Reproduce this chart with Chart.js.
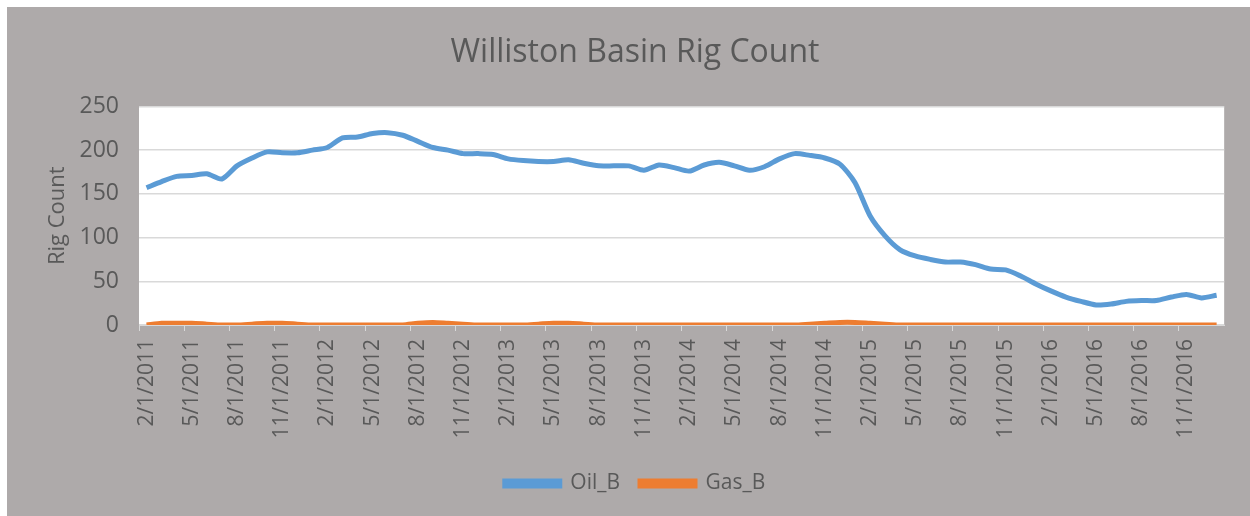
<!DOCTYPE html>
<html>
<head>
<meta charset="utf-8">
<script src="https://cdn.jsdelivr.net/npm/chart.js@4/dist/chart.umd.min.js"></script>
<style>
  html, body { margin: 0; padding: 0; background: #ffffff; }
  #frame { position: absolute; left: 7px; top: 7px; width: 1243px; height: 509px; background: #aeaaaa; }
  canvas { display: block; }
</style>
</head>
<body>
<div id="frame"><canvas id="chart" width="1243" height="509"></canvas></div>
<script>
// monthly categories, Feb 2011 .. Jan 2017
const months = [
    '2/1/2011', '3/1/2011', '4/1/2011', '5/1/2011', '6/1/2011', '7/1/2011', '8/1/2011', '9/1/2011', '10/1/2011', '11/1/2011', '12/1/2011', '1/1/2012',
    '2/1/2012', '3/1/2012', '4/1/2012', '5/1/2012', '6/1/2012', '7/1/2012', '8/1/2012', '9/1/2012', '10/1/2012', '11/1/2012', '12/1/2012', '1/1/2013',
    '2/1/2013', '3/1/2013', '4/1/2013', '5/1/2013', '6/1/2013', '7/1/2013', '8/1/2013', '9/1/2013', '10/1/2013', '11/1/2013', '12/1/2013', '1/1/2014',
    '2/1/2014', '3/1/2014', '4/1/2014', '5/1/2014', '6/1/2014', '7/1/2014', '8/1/2014', '9/1/2014', '10/1/2014', '11/1/2014', '12/1/2014', '1/1/2015',
    '2/1/2015', '3/1/2015', '4/1/2015', '5/1/2015', '6/1/2015', '7/1/2015', '8/1/2015', '9/1/2015', '10/1/2015', '11/1/2015', '12/1/2015', '1/1/2016',
    '2/1/2016', '3/1/2016', '4/1/2016', '5/1/2016', '6/1/2016', '7/1/2016', '8/1/2016', '9/1/2016', '10/1/2016', '11/1/2016', '12/1/2016', '1/1/2017'
];

const oilRigs = [
    157, 164, 170, 171, 173, 167, 182, 191, 198, 197, 197, 200,
    203, 214, 215, 219, 220, 217, 210, 203, 200, 196, 196, 195,
    190, 188, 187, 187, 189, 185, 182, 182, 182, 177, 183, 180,
    176, 183, 186, 182, 177, 181, 190, 196, 194, 191, 184, 163,
    125, 102, 86, 79, 75, 72, 72, 69, 64, 63, 56, 47,
    39, 32, 27, 23, 24, 27, 28, 28, 32, 35, 31, 34
];

const gasRigs = [
    0, 2, 2, 2, 1, 0, 0, 1, 2, 2, 1, 0,
    0, 0, 0, 0, 0, 0, 2, 3, 2, 1, 0, 0,
    0, 0, 1, 2, 2, 1, 0, 0, 0, 0, 0, 0,
    0, 0, 0, 0, 0, 0, 0, 0, 1, 2, 3, 3,
    2, 1, 0, 0, 0, 0, 0, 0, 0, 0, 0, 0,
    0, 0, 0, 0, 0, 0, 0, 0, 0, 0, 0, 0
];

const yTicks = [0, 50, 100, 150, 200, 250];

const FONT = "'Open Sans', 'Noto Sans', sans-serif";
const TEXT = '#595959';
const GRID = '#d9d9d9';

// white plot area on the grey chart background
const plotBackground = {
    id: 'plotBackground',
    beforeDraw(chart) {
        const { ctx, chartArea } = chart;
        ctx.save();
        ctx.fillStyle = '#ffffff';
        ctx.fillRect(chartArea.left, chartArea.top, chartArea.right - chartArea.left, chartArea.bottom - chartArea.top);
        ctx.restore();
    }
};

new Chart(document.getElementById('chart'), {
    type: 'line',
    data: {
        labels: months,
        datasets: [{
            label: 'Oil_B',
            data: oilRigs,
            borderColor: '#5b9bd5',
            backgroundColor: '#5b9bd5',
            borderWidth: 5,
            pointRadius: 0,
            tension: 0.25
        }, {
            label: 'Gas_B',
            data: gasRigs,
            borderColor: '#ed7d31',
            backgroundColor: '#ed7d31',
            borderWidth: 5,
            pointRadius: 0,
            tension: 0.25
        }]
    },
    options: {
        responsive: false,
        animation: false,
        layout: { padding: { left: 38, right: 25, top: 0, bottom: 12 } },
        plugins: {
            title: {
                display: true,
                text: 'Williston Basin Rig Count',
                color: TEXT,
                font: { family: FONT, size: 32, weight: 'normal' },
                padding: { top: 27, bottom: 34 }
            },
            legend: {
                position: 'bottom',
                labels: {
                    color: TEXT,
                    font: { family: FONT, size: 21 },
                    boxWidth: 55,
                    boxHeight: 5,
                    padding: 20
                }
            },
            tooltip: { enabled: false }
        },
        scales: {
            x: {
                offset: true,
                afterFit: scale => { scale.height = 128; },
                grid: {
                    offset: true,
                    drawOnChartArea: false,
                    tickLength: 6,
                    color: ctx => (ctx.index % 3 === 0 ? GRID : 'rgba(0,0,0,0)')
                },
                border: { display: true, color: GRID },
                ticks: {
                    autoSkip: false,
                    minRotation: 90,
                    maxRotation: 90,
                    padding: 8,
                    color: TEXT,
                    font: { family: FONT, size: 21 },
                    callback: function (value, index) {
                        return index % 3 === 0 ? months[index] : '';
                    }
                }
            },
            y: {
                min: 0,
                max: 250,
                afterBuildTicks: scale => { scale.ticks = yTicks.map(v => ({ value: v })); },
                afterFit: scale => { scale.width = 94; },
                grid: { color: GRID, lineWidth: 1.5, drawTicks: false },
                border: { display: false },
                ticks: {
                    padding: 20,
                    color: TEXT,
                    font: { family: FONT, size: 23 }
                },
                title: {
                    display: true,
                    text: 'Rig Count',
                    color: TEXT,
                    font: { family: FONT, size: 22 },
                    padding: 0
                }
            }
        }
    },
    plugins: [plotBackground]
});
</script>
</body>
</html>
